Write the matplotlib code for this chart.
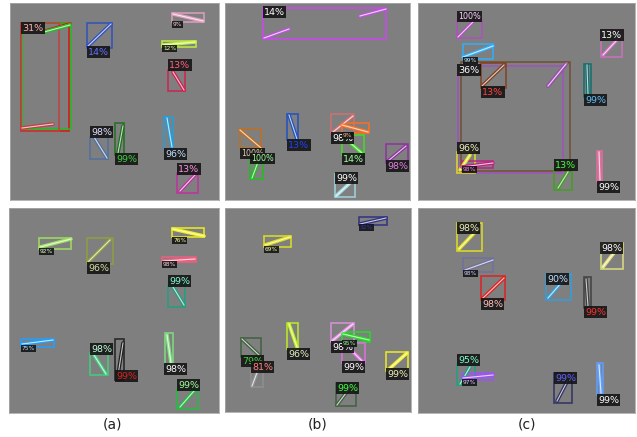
import matplotlib
matplotlib.use("Agg")
import matplotlib.pyplot as plt
from matplotlib.patches import Rectangle

# Detections in image pixel coordinates:
# (box x0, y0, x1, y1), (segment xa, ya, xb, yb), score label, label top-left
a1_dets = [
    ((21, 23, 69, 131), (42, 32, 70, 24), "31%", (21, 23)),
    ((22, 23, 71, 129), (44, 32, 70, 25), "", None),
    ((21, 23, 59, 131), (22, 128, 53, 124), "", None),
    ((87, 23, 112, 48), (88, 46, 111, 24), "14%", (87, 47)),
    ((172, 13, 204, 22), (173, 14, 203, 21), "9%", (172, 21)),
    ((162, 41, 196, 47), (163, 45, 195, 42), "12%", (162, 45)),
    ((168, 70, 185, 91), (173, 72, 184, 90), "13%", (168, 60)),
    ((90, 137, 108, 159), (94, 137, 107, 158), "98%", (90, 127)),
    ((115, 123, 124, 155), (118, 153, 123, 126), "99%", (115, 154)),
    ((164, 117, 173, 149), (167, 118, 172, 147), "96%", (164, 149)),
    ((177, 173, 198, 193), (180, 191, 195, 175), "13%", (177, 164)),
]
a1_style = [
    ("#e01010", "#ffb0b0", False), ("#20c020", "w", False), ("#c04040", "w", False),
    ("#3050c0", "#6070ff", False), ("#e0a0c0", "#ffd0e0", True), ("#c0f040", "#e0ffa0", True),
    ("#d02050", "#ff6080", False), ("#5070a0", "#e0e0ff", False), ("#207020", "#40d040", False),
    ("#20a0e0", "#c0e0ff", False), ("#c030a0", "#ff90e0", False),
]

b1_dets = [
    ((263, 8, 386, 39), (264, 38, 289, 29), "14%", (263, 7)),
    ((263, 8, 386, 39), (360, 16, 386, 9), "", None),
    ((240, 129, 261, 148), (240, 130, 261, 148), "100%", (240, 148)),
    ((250, 160, 263, 179), (252, 178, 258, 162), "100%", (250, 153)),
    ((287, 114, 298, 140), (289, 115, 297, 139), "13%", (287, 140)),
    ((331, 114, 354, 133), (333, 132, 353, 116), "98%", (331, 133)),
    ((342, 123, 369, 133), (342, 125, 368, 132), "9%", (342, 132)),
    ((342, 135, 364, 155), (347, 140, 363, 154), "14%", (342, 154)),
    ((386, 144, 408, 163), (388, 161, 406, 146), "98%", (386, 161)),
    ((335, 174, 355, 197), (336, 196, 350, 183), "99%", (335, 173)),
]
b1_style = [
    ("#c050e0", "w", False), ("#c050e0", "w", False), ("#c07020", "#e0c8b0", False),
    ("#20c020", "#a0ffa0", False), ("#2050c0", "#2040ff", False), ("#d07070", "w", False),
    ("#ff7020", "#ffc0a0", True), ("#40e020", "#a0ffa0", False), ("#9030a0", "#e080e0", False),
    ("#a0d8e0", "w", False),
]

c1_dets = [
    ((457, 20, 482, 38), (458, 37, 473, 22), "100%", (457, 11)),
    ((463, 44, 493, 59), (463, 57, 493, 46), "99%", (463, 57)),
    ((461, 62, 570, 171), (548, 86, 567, 63), "", None),
    ((458, 66, 563, 173), (548, 86, 566, 64), "36%", (457, 65)),
    ((481, 63, 506, 88), (482, 86, 504, 65), "13%", (481, 87)),
    ((601, 31, 622, 57), (603, 55, 617, 40), "13%", (600, 30)),
    ((584, 64, 591, 97), (587, 65, 588, 95), "99%", (584, 95)),
    ((457, 152, 475, 173), (460, 170, 470, 155), "96%", (457, 143)),
    ((462, 161, 493, 168), (462, 167, 493, 163), "98%", (462, 166)),
    ((554, 169, 572, 190), (558, 188, 568, 172), "13%", (554, 160)),
    ((597, 151, 602, 182), (599, 152, 600, 180), "99%", (597, 182)),
]
c1_style = [
    ("#b050c0", "#ffd0ff", False), ("#30b0ff", "#c0e8ff", True), ("#705030", "w", False),
    ("#a050c0", "w", False), ("#804020", "#ff4040", False), ("#d070c0", "w", False),
    ("#107070", "#60c0ff", False), ("#e0e020", "#f0f0c0", False), ("#c02080", "#ff80ff", True),
    ("#40a020", "#40ff40", False), ("#e070a0", "w", False),
]

a2_dets = [
    ((39, 238, 71, 249), (40, 247, 71, 239), "92%", (39, 248)),
    ((87, 238, 113, 264), (88, 262, 110, 240), "96%", (87, 263)),
    ((172, 228, 204, 237), (173, 229, 204, 236), "76%", (172, 237)),
    ((162, 257, 196, 262), (163, 261, 195, 259), "98%", (162, 261)),
    ((168, 285, 185, 307), (173, 287, 184, 305), "99%", (168, 276)),
    ((21, 339, 54, 347), (22, 344, 53, 340), "75%", (21, 345)),
    ((90, 353, 108, 375), (94, 355, 106, 374), "98%", (90, 344)),
    ((115, 339, 124, 380), (118, 375, 123, 343), "99%", (115, 371)),
    ((165, 333, 173, 365), (167, 335, 171, 363), "98%", (164, 364)),
    ((177, 389, 198, 409), (180, 407, 194, 391), "99%", (177, 380)),
]
a2_style = [
    ("#a0e060", "#e0ffd0", True), ("#90a040", "#d0e0a0", False), ("#f0f020", "#ffffa0", True),
    ("#f06080", "#ffd0e0", True), ("#20a080", "#80ffd0", False), ("#20a0ff", "#c0e0ff", True),
    ("#40d080", "#c0ffe0", False), ("#202020", "#e02020", False), ("#80e080", "w", False),
    ("#20c040", "#a0ffa0", False),
]

b2_dets = [
    ((264, 236, 291, 247), (265, 245, 290, 237), "69%", (264, 246)),
    ((359, 217, 387, 225), (360, 224, 386, 218), "32%", (359, 224)),
    ((241, 338, 261, 357), (242, 339, 260, 356), "79%", (241, 356)),
    ((251, 370, 263, 387), (252, 386, 258, 370), "81%", (251, 362)),
    ((287, 323, 298, 349), (289, 324, 297, 347), "96%", (287, 349)),
    ((331, 323, 354, 342), (332, 341, 353, 324), "98%", (331, 342)),
    ((342, 332, 370, 342), (343, 334, 369, 340), "95%", (342, 340)),
    ((342, 343, 365, 363), (348, 347, 363, 362), "99%", (342, 362)),
    ((386, 352, 408, 371), (388, 370, 407, 353), "99%", (386, 369)),
    ((336, 383, 356, 406), (337, 405, 352, 385), "99%", (336, 383)),
]
b2_style = [
    ("#e0e020", "#ffffa0", True), ("#303080", "#3030c0", True), ("#406040", "#40d040", False),
    ("#909090", "#ff8080", False), ("#c0f020", "#e0f0c0", False), ("#e090e0", "w", False),
    ("#20e020", "#a0ffa0", True), ("#e070e0", "w", False), ("#f0f020", "#f0f0c0", False),
    ("#406040", "#40ff40", False),
]

c2_dets = [
    ((457, 223, 482, 251), (459, 249, 478, 229), "98%", (457, 223)),
    ((463, 258, 493, 272), (465, 270, 493, 260), "98%", (463, 270)),
    ((481, 276, 505, 300), (483, 298, 504, 278), "98%", (481, 299)),
    ((546, 274, 571, 300), (548, 298, 568, 275), "90%", (546, 274)),
    ((584, 277, 591, 308), (586, 279, 588, 306), "99%", (584, 307)),
    ((601, 243, 623, 269), (603, 267, 620, 245), "98%", (600, 243)),
    ((457, 364, 475, 385), (460, 384, 470, 367), "95%", (457, 355)),
    ((462, 373, 493, 380), (463, 378, 493, 375), "97%", (462, 379)),
    ((554, 373, 572, 403), (557, 401, 568, 380), "99%", (554, 373)),
    ((597, 363, 603, 395), (599, 365, 601, 393), "99%", (597, 395)),
]
c2_style = [
    ("#e0e020", "#f0f0c0", False), ("#7070a0", "#d0d0ff", True), ("#e02020", "#ffc0c0", False),
    ("#30a0e0", "#c0e0ff", False), ("#404040", "#ff3030", False), ("#e0e080", "w", False),
    ("#20a080", "#80ffd0", False), ("#a050ff", "#e0d0ff", True), ("#303060", "#6060ff", False),
    ("#60a0ff", "w", False),
]

# panel extents in image pixels (x0, y0, x1, y1)
panels = [
    ((10, 3, 219, 200), a1_dets, a1_style),
    ((225, 3, 410, 200), b1_dets, b1_style),
    ((418, 3, 635, 200), c1_dets, c1_style),
    ((9, 208, 219, 413), a2_dets, a2_style),
    ((225, 208, 411, 412), b2_dets, b2_style),
    ((418, 208, 635, 413), c2_dets, c2_style),
]
captions = [("(a)", 113), ("(b)", 318), ("(c)", 527)]

W, H = 637, 437
fig = plt.figure(figsize=(W / 100, H / 100), dpi=100)
fig.patch.set_facecolor("white")

for (x0, y0, x1, y1), dets, styles in panels:
    ax = fig.add_axes([x0 / W, 1 - y1 / H, (x1 - x0) / W, (y1 - y0) / H])
    ax.set_facecolor("#7f7f7f")
    ax.set_xlim(x0, x1)
    ax.set_ylim(y1, y0)
    ax.set_xticks([])
    ax.set_yticks([])
    for s in ax.spines.values():
        s.set_color("#a8a8a8")
        s.set_linewidth(0.6)
    for (box, seg, score, lxy), (col, tcol, small) in zip(dets, styles):
        bx0, by0, bx1, by1 = box
        ax.add_patch(Rectangle((bx0, by0), bx1 - bx0, by1 - by0, fill=False,
                               edgecolor=col, linewidth=1.2, alpha=0.9))
        xa, ya, xb, yb = seg
        ax.plot([xa, xb], [ya, yb], color=col, lw=2.6, solid_capstyle="round")
        ax.plot([xa, xb], [ya, yb], color="white", lw=0.8, alpha=0.75)
        if score:
            if small:
                fs = 4.2
            elif len(score) > 3:
                fs = 5.8
            else:
                fs = 6.8
            ax.text(lxy[0] + 1, lxy[1] + 0.8, score, color=tcol, fontsize=fs,
                    ha="left", va="top",
                    bbox=dict(boxstyle="square,pad=0.15", facecolor="#151515",
                              edgecolor="none", alpha=0.9))

for txt, xc in captions:
    fig.text(xc / W, 1 - 425 / H, txt, ha="center", va="center", fontsize=10,
             color="#222222")

fig.savefig("out.png", dpi=100, facecolor="white")
